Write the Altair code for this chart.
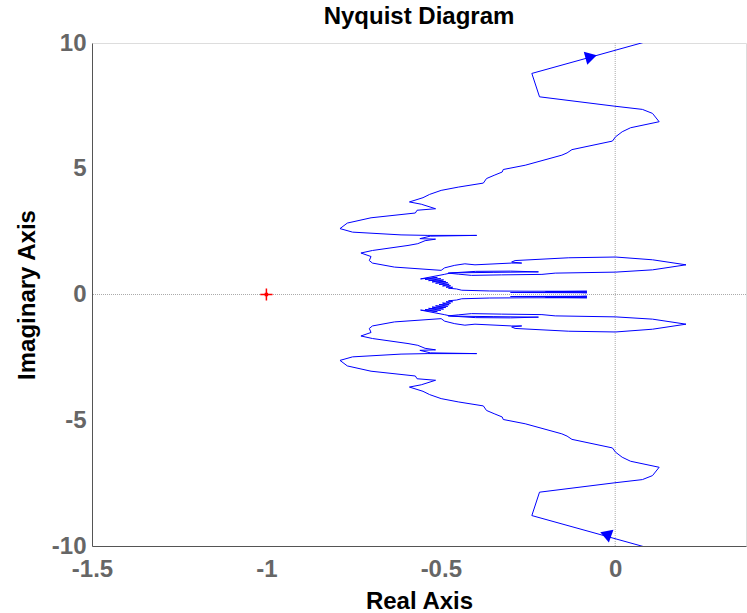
import altair as alt
import pandas as pd

# Upper (positive imaginary) branch of the Nyquist curve
re_up = [0.25, 0.083, -0.239, -0.217, -0.003, 0.078, 0.107, 0.126, 0.044, 0.020,
         0.001, -0.008, -0.124, -0.138, -0.153, -0.258, -0.321, -0.324, -0.347, -0.369,
         -0.378, -0.450, -0.499, -0.532, -0.551, -0.590, -0.556, -0.515, -0.568, -0.573,
         -0.700, -0.768, -0.789, -0.753, -0.614, -0.537, -0.397, -0.530, -0.560, -0.515,
         -0.545, -0.566, -0.594, -0.696, -0.729, -0.700, -0.705, -0.696, -0.633, -0.499,
         -0.489, -0.460, -0.431, -0.402, -0.297, -0.268, -0.297, -0.287, -0.133, 0.001,
         0.107, 0.203, 0.107, 0.001, -0.172, -0.210, -0.326, -0.412, -0.450, -0.479,
         -0.400, -0.300, -0.220, -0.350, -0.470, -0.490,
         -0.558, -0.510, -0.545, -0.500, -0.535, -0.492, -0.525, -0.486, -0.515, -0.480,
         -0.505, -0.476, -0.495, -0.472, -0.485, -0.466, -0.478, -0.455,
         -0.440, -0.360, -0.250, -0.081, -0.200, -0.081, -0.300, -0.100, -0.081]
im_up = [10.67, 10.03, 8.79, 7.86, 7.49, 7.36, 7.20, 6.87, 6.63, 6.47,
         6.27, 6.10, 5.76, 5.63, 5.54, 5.14, 4.97, 4.87, 4.74, 4.61,
         4.43, 4.27, 4.14, 3.98, 3.85, 3.68, 3.59, 3.41, 3.35, 3.24,
         3.05, 2.84, 2.62, 2.48, 2.37, 2.35, 2.35, 2.32, 2.22, 2.20,
         2.14, 2.02, 1.95, 1.75, 1.65, 1.51, 1.35, 1.25, 1.09, 0.96,
         1.06, 1.16, 1.22, 1.18, 1.25, 1.25, 1.29, 1.35, 1.46, 1.49,
         1.38, 1.18, 0.98, 0.89, 0.85, 0.80, 0.78, 0.76, 0.81, 0.85,
         0.92, 0.93, 0.90, 0.88, 0.86, 0.80,
         0.62, 0.68, 0.60, 0.63, 0.55, 0.58, 0.50, 0.52, 0.45, 0.47,
         0.40, 0.41, 0.34, 0.35, 0.29, 0.29, 0.25, 0.22,
         0.17, 0.14, 0.13, 0.13, 0.11, 0.09, 0.08, 0.07, 0.06]

# Direction arrows (real, imag, shape, angle)
arrow_re = [-0.069, -0.021]
arrow_im = [9.45, -9.63]
arrow_shape = ["triangle-right", "triangle-down"]
arrow_angle = [345, 350]

# Critical point
crit_re = [-1.0]
crit_im = [0.0]

x_ticks = [-1.5, -1.0, -0.5, 0.0]
y_ticks = [-10, -5, 0, 5, 10]

rows = []
for i, (r, m) in enumerate(zip(re_up, im_up)):
    rows.append({"re": r, "im": m, "branch": "pos", "ord": i})
for i, (r, m) in enumerate(zip(re_up, im_up)):
    rows.append({"re": r, "im": -m, "branch": "neg", "ord": i})
curve = pd.DataFrame(rows)
arrows = pd.DataFrame({"re": arrow_re, "im": arrow_im, "shape": arrow_shape, "angle": arrow_angle})
crit = pd.DataFrame({"re": crit_re, "im": crit_im})

xs = alt.Scale(domain=[-1.5, 0.375], nice=False, zero=False)
ys = alt.Scale(domain=[-10, 10], nice=False, zero=False)

FONT = "Liberation Sans"
LBL = "'' + datum.value"

x_axis = alt.Axis(values=x_ticks, title="Real Axis", grid=False, ticks=False,
                  labelExpr=LBL,
                  labelFontSize=24, labelFontWeight="bold", labelColor="#666666",
                  labelFont=FONT, labelPadding=11, labelFlush=False, labelOverlap=False,
                  titleFontSize=24, titleFontWeight="bold", titleColor="#000000",
                  titleFont=FONT, titlePadding=8, domainColor="#555555")
y_axis = alt.Axis(values=y_ticks, title="Imaginary Axis", grid=False, ticks=False,
                  labelExpr=LBL,
                  labelFontSize=24, labelFontWeight="bold", labelColor="#666666",
                  labelFont=FONT, labelPadding=6, labelFlush=False, labelOverlap=False,
                  titleFontSize=24, titleFontWeight="bold", titleColor="#000000",
                  titleFont=FONT, titlePadding=12, domainColor="#555555")

zero_v = alt.Chart(pd.DataFrame({"v": [0]})).mark_rule(
    color="#aaaaaa", strokeWidth=1, strokeDash=[1, 1]).encode(x=alt.X("v:Q", scale=xs, axis=x_axis))
zero_h = alt.Chart(pd.DataFrame({"v": [0]})).mark_rule(
    color="#aaaaaa", strokeWidth=1, strokeDash=[1, 1]).encode(y=alt.Y("v:Q", scale=ys, axis=y_axis))

line = alt.Chart(curve).mark_line(color="#0000ff", strokeWidth=1, clip=True).encode(
    x=alt.X("re:Q", scale=xs, axis=x_axis),
    y=alt.Y("im:Q", scale=ys, axis=y_axis),
    detail="branch:N",
    order="ord:Q",
)

arrow_marks = alt.Chart(arrows).mark_point(filled=True, color="#0000ff", size=180, opacity=1).encode(
    x=alt.X("re:Q", scale=xs),
    y=alt.Y("im:Q", scale=ys),
    shape=alt.Shape("shape:N", scale=None),
    angle=alt.Angle("angle:Q", scale=None),
)

crit_mark = alt.Chart(crit).mark_point(
    shape="M -1 0 L 1 0 M 0 -1 L 0 1", filled=False, color="#ff0000",
    size=150, strokeWidth=1.5, opacity=1).encode(
    x=alt.X("re:Q", scale=xs),
    y=alt.Y("im:Q", scale=ys),
)
crit_dot = alt.Chart(crit).mark_point(
    shape="square", filled=True, color="#ff0000", size=12, opacity=1).encode(
    x=alt.X("re:Q", scale=xs),
    y=alt.Y("im:Q", scale=ys),
)

chart = alt.layer(zero_v, zero_h, line, arrow_marks, crit_mark, crit_dot).properties(
    width=654, height=503,
    title=alt.TitleParams("Nyquist Diagram", fontSize=24, fontWeight="bold",
                          font=FONT, color="#000000", offset=2),
    padding={"left": 92, "top": 43, "right": 1, "bottom": 67},
    autosize=alt.AutoSizeParams(type="none"),
).configure_view(stroke="#555555", strokeWidth=1).configure(background="white")

chart.save("out.html", embed_options={"renderer": "svg", "actions": False})
